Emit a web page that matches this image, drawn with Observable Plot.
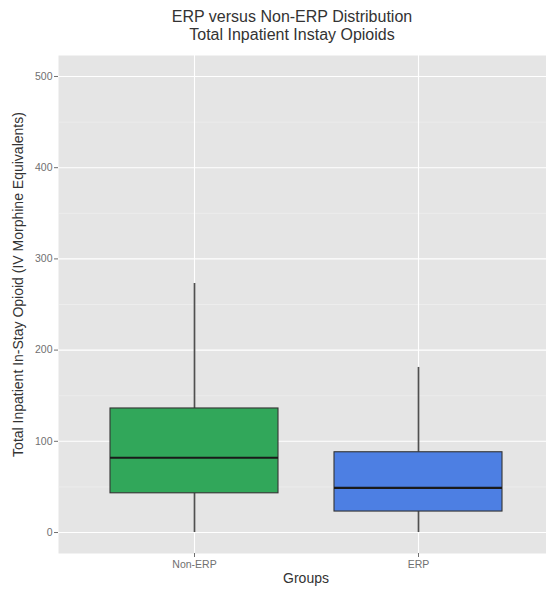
<!DOCTYPE html>
<html>
<head>
<meta charset="utf-8">
<script src="https://cdn.jsdelivr.net/npm/d3@7"></script>
<script src="https://cdn.jsdelivr.net/npm/@observablehq/plot@0.6"></script>
<style>
  html, body { margin: 0; padding: 0; background: #fff; overflow: hidden; }
  #wrap { position: relative; width: 546px; height: 592px; overflow: hidden; font-family: "Liberation Sans", Arial, sans-serif; }
  #title { height: 48px; text-align: center; width: 584px; color: #333; font-size: 16px; line-height: 18px; padding-top: 8px; box-sizing: border-box; white-space: nowrap; }
  #chart svg { display: block; max-width: none; }
</style>
</head>
<body>
<div id="wrap">
  <div id="title">ERP versus Non-ERP Distribution<br>Total Inpatient Instay Opioids</div>
  <div id="chart"></div>
</div>
<script>
const groups = ["Non-ERP", "ERP"];
const lowerWhisker = [0, 0];
const q1 = [43, 23];
const median = [82, 49];
const q3 = [136, 88];
const upperWhisker = [273, 181];
const yTicks = [0, 100, 200, 300, 400, 500];
const yMinor = [50, 150, 250, 350, 450];
const boxColors = ["#31a75a", "#4d7fe3"];
const yTitle = "Total Inpatient In-Stay Opioid (IV Morphine Equivalents)";
const xTitle = "Groups";

const rows = groups.map((g, i) => ({
  group: g, lo: lowerWhisker[i], q1: q1[i], med: median[i], q3: q3[i], hi: upperWhisker[i]
}));

const chart = Plot.plot({
  width: 553,
  height: 544,
  marginTop: 7,
  marginBottom: 39,
  marginLeft: 58,
  marginRight: 0,
  style: { fontFamily: "Liberation Sans, Arial, sans-serif", background: "transparent", overflow: "visible", maxWidth: "none" },
  x: { type: "band", domain: groups, paddingInner: 0.25, paddingOuter: 0.225, label: null },
  y: { domain: [-23, 523], label: null },
  color: { domain: groups, range: boxColors },
  marks: [
    Plot.frame({ fill: "#e5e5e5", stroke: null }),
    Plot.ruleY(yMinor, { stroke: "#f2f2f2", strokeWidth: 0.6 }),
    Plot.gridY({ ticks: yTicks, stroke: "#ffffff", strokeOpacity: 1, strokeWidth: 1.1 }),
    Plot.gridX({ stroke: "#ffffff", strokeOpacity: 1, strokeWidth: 1.1 }),
    Plot.ruleX(rows, { x: "group", y1: "q3", y2: "hi", stroke: "#505050", strokeWidth: 1.7 }),
    Plot.ruleX(rows, { x: "group", y1: "lo", y2: "q1", stroke: "#505050", strokeWidth: 1.7 }),
    Plot.barY(rows, { x: "group", y1: "q1", y2: "q3", fill: "group", stroke: "#333333", strokeWidth: 1.1, insetLeft: 0, insetRight: 0 }),
    Plot.tickY(rows, { x: "group", y: "med", stroke: "#1a1a1a", strokeWidth: 2.2, insetLeft: 0, insetRight: 0 }),
    Plot.axisY({ ticks: yTicks, tickSize: 4, tickPadding: 2, fontSize: 10.5, color: "#707070", stroke: "#707070", label: null }),
    Plot.axisX({ tickSize: 4, tickPadding: 3, fontSize: 10.5, color: "#707070", stroke: "#707070", label: null }),
    Plot.text([yTitle], { text: d => d, frameAnchor: "left", dx: -40, dy: -20, rotate: -90, fontSize: 14, fill: "#333", textAnchor: "middle" }),
    Plot.text([xTitle], { text: d => d, frameAnchor: "bottom", dy: 29, fontSize: 14, fill: "#333", textAnchor: "middle" })
  ]
});
document.getElementById("chart").appendChild(chart);
</script>
</body>
</html>
